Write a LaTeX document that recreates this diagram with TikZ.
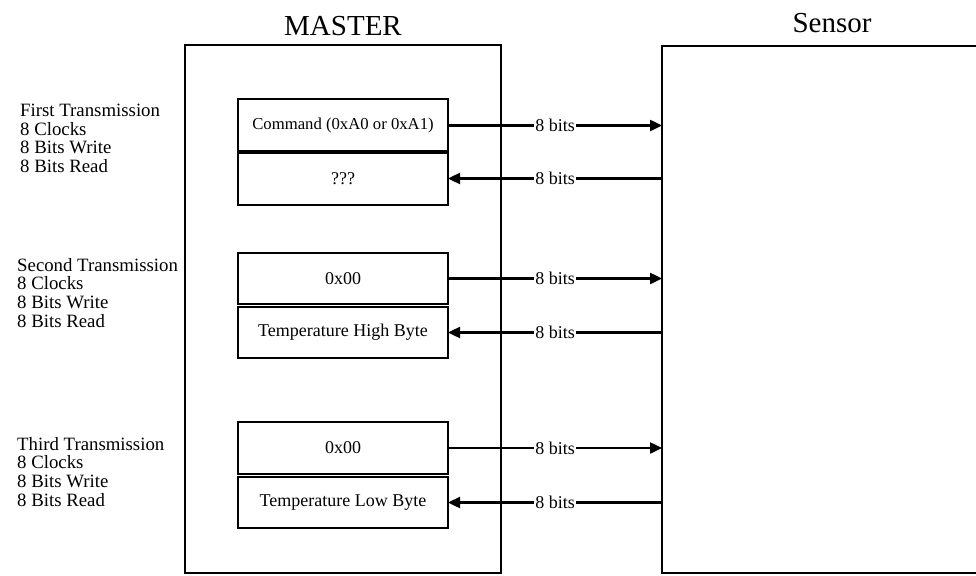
\documentclass[tikz,border=0pt]{standalone}
\usepackage{fontspec}
\setmainfont{Liberation Serif}
\usetikzlibrary{arrows.meta}
\begin{document}
\begin{tikzpicture}[x=1pt,y=-1pt,
  frame/.style={draw,line width=1.6pt,inner sep=0pt,outer sep=0pt},
  bytebox/.style={draw,line width=2pt,minimum width=210pt,inner sep=0pt,outer sep=0pt,font=\fontsize{18}{20}\selectfont},
  lbl/.style={align=left,anchor=north west,inner sep=0pt,font=\fontsize{18.8}{18.6}\selectfont},
  head/.style={font=\fontsize{29}{32}\selectfont,inner sep=0pt,anchor=base},
  bus/.style={line width=2.4pt,-{Triangle[length=12pt,width=11pt]}},
  bits/.style={fill=white,inner sep=1pt,font=\fontsize{18}{20}\selectfont}]
\useasboundingbox (0,0) rectangle (976,575);
\clip (0,0) rectangle (976,575);
\fill[white] (0,0) rectangle (976,575);

% frames
\node[frame,minimum width=316pt,minimum height=528pt] (master) at (343,309) {};
\node[frame,minimum width=340pt,minimum height=527pt] (sensor) at (832,309.5) {};
\node[head] (mtitle) at (343,36) {MASTER};
\node[head] (stitle) at (832,33) {Sensor};

% left labels
\node[lbl] (l1) at (20,104) {First Transmission\\8 Clocks\\8 Bits Write\\8 Bits Read};
\node[lbl] (l2) at (17,258) {Second Transmission\\8 Clocks\\8 Bits Write\\8 Bits Read};
\node[lbl] (l3) at (17,437) {Third Transmission\\8 Clocks\\8 Bits Write\\8 Bits Read};

% byte boxes
\node[bytebox,minimum height=53pt,font=\fontsize{16.7}{20}\selectfont] (cmd) at (343,125.5) {Command (0xA0 or 0xA1)};
\node[bytebox,minimum height=53pt] (unk) at (343,178.5) {???};
\draw[line width=3.4pt] (cmd.south west) -- (cmd.south east);
\node[bytebox,minimum height=51pt] (z1) at (343,278.5) {0x00};
\node[bytebox,minimum height=51pt] (hi) at (343,332.5) {Temperature High Byte};
\node[bytebox,minimum height=52pt] (z2) at (343,448) {0x00};
\node[bytebox,minimum height=51pt] (lo) at (343,502.5) {Temperature Low Byte};

% buses
\draw[bus] (cmd.east) -- (cmd.east -| sensor.west) node[bits,midway] {8 bits};
\draw[bus] (unk.east -| sensor.west) -- (unk.east) node[bits,midway] {8 bits};
\draw[bus] (z1.east) -- (z1.east -| sensor.west) node[bits,midway] {8 bits};
\draw[bus] (hi.east -| sensor.west) -- (hi.east) node[bits,midway] {8 bits};
\draw[bus] (z2.east) -- (z2.east -| sensor.west) node[bits,midway] {8 bits};
\draw[bus] (lo.east -| sensor.west) -- (lo.east) node[bits,midway] {8 bits};
\end{tikzpicture}
\end{document}
